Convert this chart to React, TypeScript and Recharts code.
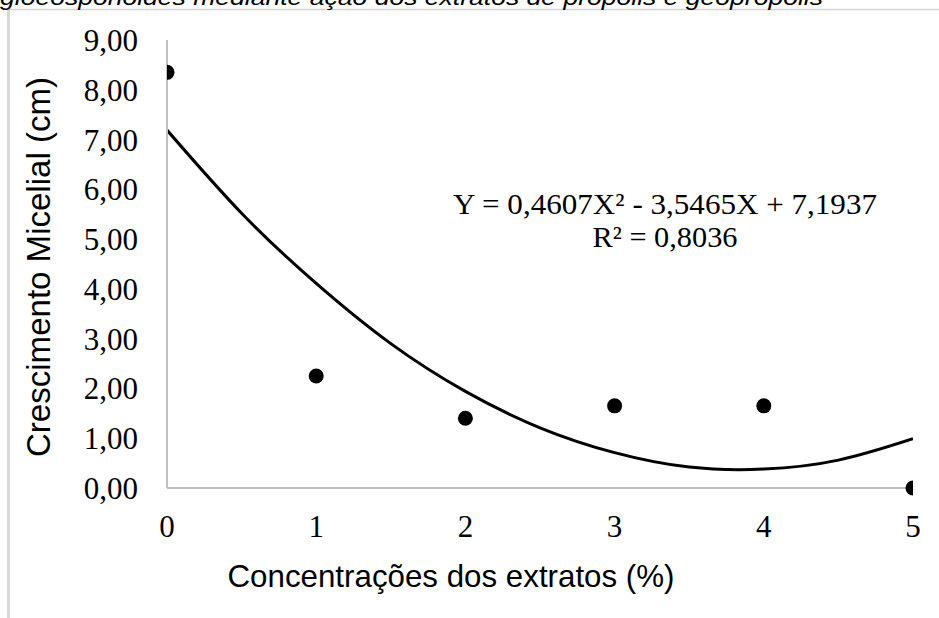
import React from 'react';
import { ComposedChart, Line, Scatter, XAxis, YAxis } from 'recharts';

// observed means per concentration
const concentrations = [0, 1, 2, 3, 4, 5];
const growth = [8.35, 2.25, 1.4, 1.65, 1.65, 0.0];

// trend curve
const trendX = [0, 0.5, 1, 1.5, 2, 2.5, 3, 3.5, 4, 4.5, 5];
const trendY = [7.19, 5.52, 4.11, 2.9, 1.94, 1.21, 0.71, 0.42, 0.38, 0.56, 0.99];

const yTicks = [0, 1, 2, 3, 4, 5, 6, 7, 8, 9];
const xTicks = [0, 1, 2, 3, 4, 5];

const points = concentrations.map((x, i) => ({ x, y: growth[i] }));
const trend = trendX.map((x, i) => ({ x, trend: trendY[i] }));

const serif = '"Liberation Serif", "Times New Roman", serif';
const sans = '"Liberation Sans", Arial, sans-serif';
const axisColor = '#bfbfbf';

const Dot = (props: any) => <circle cx={props.cx} cy={props.cy} r={7.5} fill="#000" />;

const fmt = (v: number) => v.toFixed(2).replace('.', ',');

export default function App() {
  return (
    <div style={{ position: 'absolute', left: 0, top: 0, width: 939, height: 618, overflow: 'hidden', background: '#fff' }}>
      <ComposedChart width={939} height={618} margin={{ top: 40, right: 26, left: 47, bottom: 70 }}>
        <XAxis
          type="number"
          dataKey="x"
          domain={[0, 5]}
          ticks={xTicks}
          height={60}
          tickLine={false}
          tickMargin={21}
          axisLine={{ stroke: axisColor, strokeWidth: 2 }}
          tick={{ fill: '#000', fontSize: 31, fontFamily: serif }}
          allowDataOverflow
        />
        <YAxis
          type="number"
          domain={[0, 9]}
          ticks={yTicks}
          width={120}
          tickLine={false}
          tickMargin={23}
          tickFormatter={fmt}
          axisLine={{ stroke: axisColor, strokeWidth: 2 }}
          tick={{ fill: '#000', fontSize: 31, fontFamily: serif }}
        />
        <Line
          data={trend}
          dataKey="trend"
          type="natural"
          stroke="#000"
          strokeWidth={3}
          dot={false}
          activeDot={false}
          isAnimationActive={false}
        />
        <Scatter data={points} dataKey="y" shape={<Dot />} isAnimationActive={false} />
      </ComposedChart>

      <svg width={939} height={618} style={{ position: 'absolute', left: 0, top: 0, pointerEvents: 'none' }}>
        <line x1={8.5} y1={9} x2={8.5} y2={618} stroke="#d9d9d9" strokeWidth={3} />
        <line x1={8} y1={9.5} x2={939} y2={9.5} stroke="#d4d4d4" strokeWidth={1.5} />
        <text x={0} y={5} fontFamily={sans} fontStyle="italic" fontSize={22} fill="#000" textLength={823} lengthAdjust="spacingAndGlyphs">
          gloeosporioides mediante ação dos extratos de própolis e geoprópolis
        </text>
        <text
          x={50}
          y={267}
          transform="rotate(-90, 50, 267)"
          textAnchor="middle"
          fontFamily={sans}
          fontSize={33}
          fill="#000"
          textLength={380}
          lengthAdjust="spacingAndGlyphs"
        >
          Crescimento Micelial (cm)
        </text>
        <text x={451} y={587} textAnchor="middle" fontFamily={sans} fontSize={32} fill="#000" textLength={447} lengthAdjust="spacingAndGlyphs">
          Concentrações dos extratos (%)
        </text>
        <text x={665} y={214} textAnchor="middle" fontFamily={serif} fontSize={30} fill="#000" textLength={424} lengthAdjust="spacingAndGlyphs">
          Y = 0,4607X² - 3,5465X + 7,1937
        </text>
        <text x={665} y={247} textAnchor="middle" fontFamily={serif} fontSize={30} fill="#000" textLength={145} lengthAdjust="spacingAndGlyphs">
          R² = 0,8036
        </text>
      </svg>
    </div>
  );
}
